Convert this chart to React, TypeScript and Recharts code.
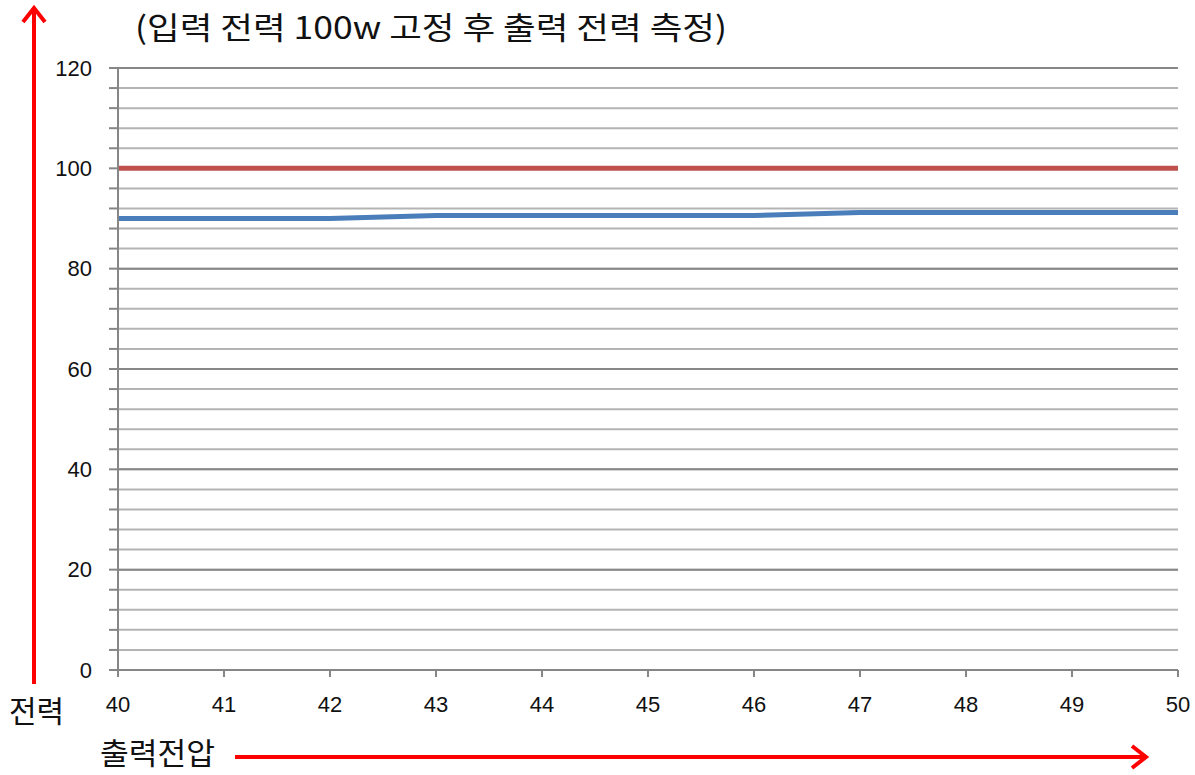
import { LineChart, Line, XAxis, YAxis, CartesianGrid, ReferenceLine } from 'recharts';

const voltages = [40, 41, 42, 43, 44, 45, 46, 47, 48, 49, 50];
const inputPower = [100, 100, 100, 100, 100, 100, 100, 100, 100, 100, 100];
const outputPower = [90, 90, 90, 90.6, 90.6, 90.6, 90.6, 91.2, 91.2, 91.2, 91.2];

const xTicks = [40, 41, 42, 43, 44, 45, 46, 47, 48, 49, 50];
const yTicks = [
  0, 4, 8, 12, 16, 20, 24, 28, 32, 36, 40, 44, 48, 52, 56, 60,
  64, 68, 72, 76, 80, 84, 88, 92, 96, 100, 104, 108, 112, 116, 120,
];
const majorTicks = [20, 40, 60, 80, 100, 120];

const title = '(입력 전력 100w 고정 후 출력 전력 측정)';
const yLabel = '전력';
const xLabel = '출력전압';

const chartData = voltages.map((v, i) => ({
  v,
  input: inputPower[i],
  output: outputPower[i],
}));

const tickStyle = { fill: '#111', fontSize: 22, fontFamily: 'Liberation Sans' };
const krFont = '"Noto Sans CJK KR", sans-serif';

export default function App() {
  return (
    <div style={{ position: 'absolute', left: 0, top: 0, width: 1195, height: 775, background: '#fff' }}>
      <LineChart
        width={1195}
        height={775}
        data={chartData}
        margin={{ top: 68, right: 17, left: 58, bottom: 45 }}
      >
        <CartesianGrid vertical={false} stroke="#b4b4b4" strokeWidth={2} />
        {majorTicks.map((t) => (
          <ReferenceLine key={t} y={t} stroke="#878787" strokeWidth={2} />
        ))}
        <XAxis
          dataKey="v"
          type="number"
          domain={[40, 50]}
          ticks={xTicks}
          height={60}
          axisLine={{ stroke: '#868686', strokeWidth: 2 }}
          tickLine={{ stroke: '#868686', strokeWidth: 2 }}
          tickSize={7}
          tickMargin={19}
          tick={tickStyle}
          interval={0}
        />
        <YAxis
          type="number"
          domain={[0, 120]}
          ticks={yTicks}
          width={60}
          axisLine={{ stroke: '#868686', strokeWidth: 2 }}
          tickLine={{ stroke: '#868686', strokeWidth: 2 }}
          tickSize={9}
          tickMargin={17}
          tick={tickStyle}
          interval={0}
          tickFormatter={(v: number) => (v % 20 === 0 ? String(v) : '')}
        />
        <Line
          type="linear"
          dataKey="input"
          stroke="#c0504d"
          strokeWidth={5}
          dot={false}
          isAnimationActive={false}
        />
        <Line
          type="linear"
          dataKey="output"
          stroke="#4a7ebb"
          strokeWidth={5}
          dot={false}
          isAnimationActive={false}
        />
      </LineChart>
      <svg
        width={1195}
        height={775}
        style={{ position: 'absolute', left: 0, top: 0, pointerEvents: 'none' }}
      >
        <text
          x={135}
          y={39}
          fontSize={31}
          fontFamily={krFont}
          fill="#111"
          textLength={592}
          lengthAdjust="spacingAndGlyphs"
        >
          {title}
        </text>
        <text x={9} y={722} fontSize={30} fontFamily={krFont} fill="#111">
          {yLabel}
        </text>
        <text
          x={100}
          y={764}
          fontSize={30}
          fontFamily={krFont}
          fill="#111"
          textLength={115}
          lengthAdjust="spacingAndGlyphs"
        >
          {xLabel}
        </text>
        <line x1={34} y1={684} x2={34} y2={8} stroke="#ff0000" strokeWidth={4} />
        <polyline points="23,22 34,8 45,22" fill="none" stroke="#ff0000" strokeWidth={4} />
        <line x1={235} y1={757} x2={1146} y2={757} stroke="#ff0000" strokeWidth={4} />
        <polyline points="1132,746 1146,757 1132,768" fill="none" stroke="#ff0000" strokeWidth={4} />
      </svg>
    </div>
  );
}
